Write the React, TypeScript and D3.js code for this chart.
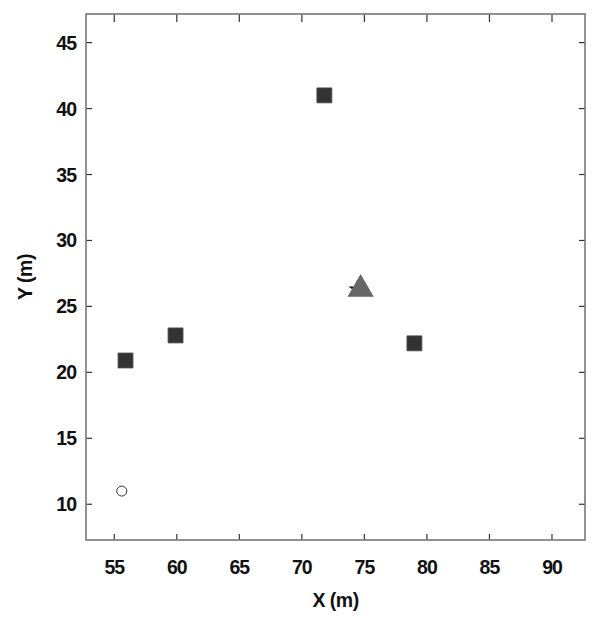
import React from 'react'
import * as d3 from 'd3'

// measured positions (m)
const squareX = [71.8, 55.9, 59.9, 79.0]
const squareY = [41.0, 20.9, 22.8, 22.2]
const triangleX = [74.7]
const triangleY = [26.3]
const starX = [74.4]
const starY = [26.3]
const circleX = [55.6]
const circleY = [11.0]
const xTicks = [55, 60, 65, 70, 75, 80, 85, 90]
const yTicks = [10, 15, 20, 25, 30, 35, 40, 45]

const W = 601, H = 617
const left = 86, right = 585, top = 14, bottom = 540

const App = () => {
  const x = d3.scaleLinear().domain([52.74, 92.64]).range([left, right])
  const y = d3.scaleLinear().domain([7.29, 47.17]).range([bottom, top])
  const sq = d3.symbol().type(d3.symbolSquare).size(15 * 15)()
  const tri = d3.symbol().type(d3.symbolTriangle).size(300)()
  const star = d3.symbol().type(d3.symbolStar).size(90)()
  const font = "'Liberation Sans', Arial, sans-serif"
  const tk = 6

  return (
    <svg width={W} height={H} style={{ position: 'absolute', left: 0, top: 0, background: '#fff' }}>
      {/* ticks */}
      <g stroke="#333" strokeWidth={1.2}>
        {xTicks.map(t => (
          <g key={'x' + t}>
            <line x1={x(t)} x2={x(t)} y1={bottom} y2={bottom - tk} />
            <line x1={x(t)} x2={x(t)} y1={top} y2={top + tk + 2} />
          </g>
        ))}
        {yTicks.map(t => (
          <g key={'y' + t}>
            <line x1={left} x2={left + tk} y1={y(t)} y2={y(t)} />
            <line x1={right} x2={right - tk} y1={y(t)} y2={y(t)} />
          </g>
        ))}
      </g>
      <rect x={left} y={top} width={right - left} height={bottom - top} fill="none" stroke="#777" strokeWidth={1.6} />

      {/* tick labels */}
      <g fontFamily={font} fontSize={19.5} fontWeight="bold" fill="#111" letterSpacing={-1}>
        {xTicks.map(t => (
          <text key={'xl' + t} x={x(t)} y={574} textAnchor="middle">{t}</text>
        ))}
        {yTicks.map(t => (
          <text key={'yl' + t} x={76} y={y(t) + 7} textAnchor="end">{t}</text>
        ))}
      </g>
      <text x={(left + right) / 2} y={607} textAnchor="middle" fontFamily={font} fontSize={19.5} fontWeight="bold" fill="#111" letterSpacing={-0.5}>X (m)</text>
      <text transform={`translate(32,${(top + bottom) / 2}) rotate(-90)`} textAnchor="middle" fontFamily={font} fontSize={19.5} fontWeight="bold" fill="#111" letterSpacing={-0.5}>Y (m)</text>

      {/* marks */}
      {starX.map((v, i) => (
        <path key={'s' + i} d={star} transform={`translate(${x(v)},${y(starY[i])})`} fill="#111" />
      ))}
      {triangleX.map((v, i) => (
        <path key={'t' + i} d={tri} transform={`translate(${x(v)},${y(triangleY[i])})`} fill="#666" />
      ))}
      {squareX.map((v, i) => (
        <path key={'q' + i} d={sq} transform={`translate(${x(v)},${y(squareY[i])})`} fill="#333" stroke="#555" strokeWidth={0.8} />
      ))}
      {circleX.map((v, i) => (
        <circle key={'c' + i} cx={x(v)} cy={y(circleY[i])} r={5} fill="#fff" stroke="#333" strokeWidth={1} />
      ))}
    </svg>
  )
}

export default App
